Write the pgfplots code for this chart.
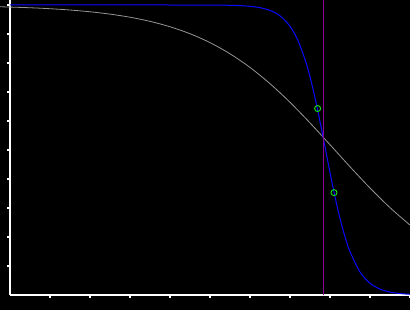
\documentclass[border=0pt]{standalone}
\usepackage{pgfplots}
\pgfplotsset{compat=1.18}
\definecolor{cgray}{RGB}{150,150,150}
\definecolor{cblue}{RGB}{10,10,255}
\definecolor{cpurple}{RGB}{140,0,150}
\definecolor{cgreen}{RGB}{20,235,20}
\begin{document}
\begin{tikzpicture}
\fill[black] (-10pt,-15pt) rectangle (400pt,295pt);
\useasboundingbox (-10pt,-15pt) rectangle (400pt,295pt);
\begin{axis}[
  at={(0pt,0pt)}, anchor=south west,
  scale only axis, width=400pt, height=295pt,
  xmin=0, xmax=10, ymin=0, ymax=1.01724,
  clip=false,
  axis x line=bottom, axis y line=left,
  axis line style={white, line width=1.2pt, -},
  xtick={1,...,10}, ytick={0.1,0.2,0.3,0.4,0.5,0.6,0.7,0.8,0.9,1.0},
  xticklabels={}, yticklabels={},
  tick align=outside, major tick length=3pt,
  tick style={white, line width=1.2pt},
]
\addplot[cgray, line width=0.8pt, smooth] coordinates {
(-0.25,0.99397) (0.5,0.99051) (1,0.98717) (1.5,0.98268) (2,0.97664)
(2.5,0.96857) (3,0.95784) (3.5,0.94364) (4,0.92506) (4.5,0.90098)
(5,0.87024) (5.5,0.83177) (6,0.78471) (6.5,0.72871) (7,0.66446)
(7.5,0.59345) (8,0.51830) (8.5,0.44231) (9,0.36893) (9.5,0.30117) (10,0.24107)
};
\addplot[cblue, line width=1pt, smooth] coordinates {
(0,1.0) (2,1.0) (4,0.99998) (5,0.99974) (5.5,0.99890) (5.75,0.99776)
(6,0.99544) (6.25,0.99075) (6.5,0.98132) (6.75,0.96262) (7,0.92665)
(7.2,0.87722) (7.4,0.80163) (7.5,0.75241) (7.6,0.69561) (7.7,0.63216)
(7.8,0.56377) (7.9,0.49287) (8.0,0.42226) (8.1,0.35469) (8.2,0.29245)
(8.3,0.23713) (8.4,0.18946) (8.5,0.14950) (8.75,0.07937) (9,0.04056)
(9.25,0.02031) (9.5,0.01007) (9.75,0.00496) (10,0.00244)
};
\addplot[cpurple, line width=1pt] coordinates {(7.83,0) (7.83,1.01724)};
\addplot[only marks, mark=o, mark size=3pt, mark options={cgreen, line width=0.9pt}] coordinates {
(7.69,0.643) (8.1,0.353)
};
\end{axis}
\end{tikzpicture}
\end{document}
